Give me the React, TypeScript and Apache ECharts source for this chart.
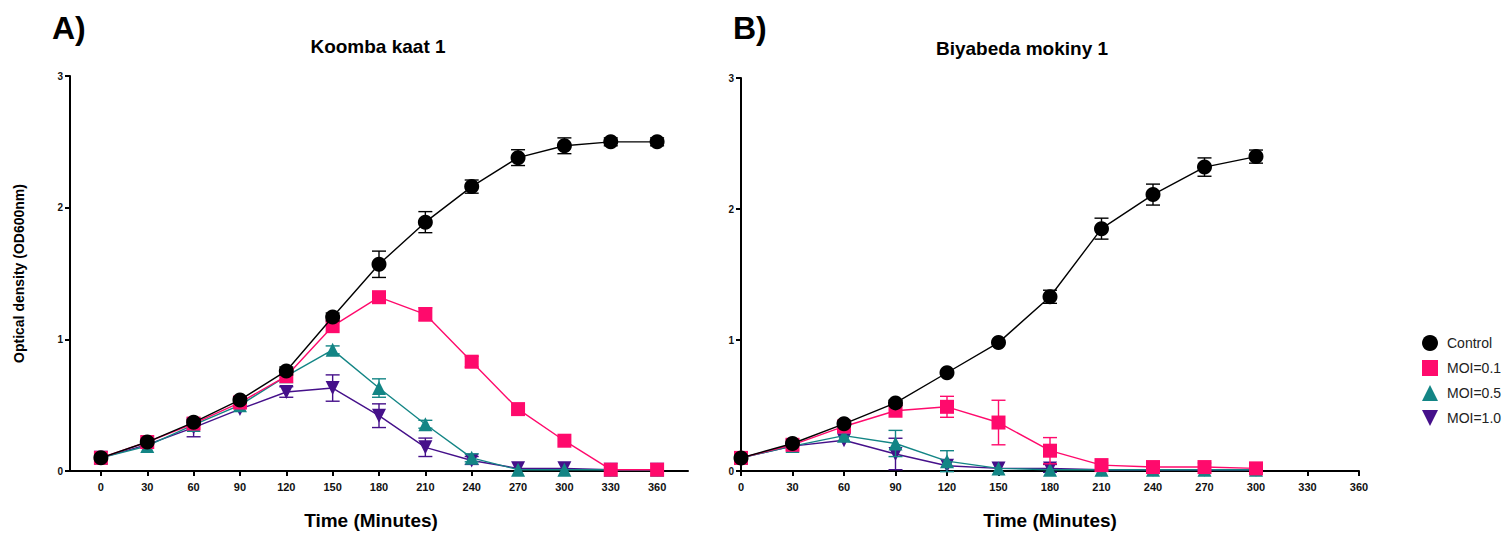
import React, { useEffect, useRef } from "react";
import * as echarts from "echarts";

const timesA = [0, 30, 60, 90, 120, 150, 180, 210, 240, 270, 300, 330, 360];
const timesB = [0, 30, 60, 90, 120, 150, 180, 210, 240, 270, 300];
const tickLabels = [0, 30, 60, 90, 120, 150, 180, 210, 240, 270, 300, 330, 360];

// Panel A – Koomba kaat 1 (mean, sd)
const aControl = [0.1, 0.22, 0.37, 0.54, 0.76, 1.17, 1.57, 1.89, 2.16, 2.38, 2.47, 2.5, 2.5];
const aControlSd = [0, 0, 0.02, 0.02, 0.03, 0.03, 0.1, 0.08, 0.05, 0.06, 0.06, 0.03, 0.03];
const aMoi01 = [0.1, 0.22, 0.36, 0.52, 0.72, 1.1, 1.32, 1.19, 0.83, 0.47, 0.23, 0.01, 0.01];
const aMoi01Sd = [0, 0, 0, 0, 0, 0, 0.02, 0.05, 0.04, 0, 0, 0, 0];
const aMoi05 = [0.1, 0.19, 0.35, 0.5, 0.72, 0.92, 0.63, 0.355, 0.1, 0.01, 0.01, 0.01, 0.01];
const aMoi05Sd = [0, 0, 0, 0, 0, 0.03, 0.07, 0.03, 0.03, 0, 0, 0, 0];
const aMoi10 = [0.1, 0.2, 0.33, 0.47, 0.6, 0.63, 0.42, 0.18, 0.08, 0.02, 0.02, 0.01, 0.01];
const aMoi10Sd = [0, 0, 0.07, 0, 0.04, 0.1, 0.09, 0.07, 0.03, 0, 0, 0, 0];

// Panel B – Biyabeda mokiny 1
const bControl = [0.1, 0.21, 0.36, 0.52, 0.75, 0.98, 1.33, 1.85, 2.11, 2.32, 2.4];
const bControlSd = [0, 0, 0, 0.02, 0, 0, 0.05, 0.08, 0.08, 0.07, 0.05];
const bMoi01 = [0.1, 0.2, 0.34, 0.46, 0.49, 0.37, 0.155, 0.045, 0.03, 0.03, 0.02];
const bMoi01Sd = [0, 0, 0, 0, 0.08, 0.17, 0.1, 0, 0, 0, 0];
const bMoi05 = [0.1, 0.19, 0.27, 0.21, 0.075, 0.02, 0.01, 0.01, 0.01, 0.01, 0.01];
const bMoi05Sd = [0, 0, 0, 0.1, 0.08, 0, 0, 0, 0, 0, 0];
const bMoi10 = [0.1, 0.19, 0.235, 0.13, 0.04, 0.02, 0.02, 0.01, 0.01, 0.01, 0.01];
const bMoi10Sd = [0, 0, 0, 0.12, 0, 0, 0.03, 0, 0, 0, 0];

const names = ["Control", "MOI=0.1", "MOI=0.5", "MOI=1.0"];
const colors = ["#000000", "#FF0A6C", "#138585", "#45108A"];
const symbols = ["circle", "rect", "triangle", "triangle"];
const rotations = [0, 0, 0, 180];

const FONT = 'Arial, "Liberation Sans", Helvetica, sans-serif';

function makeSeries(
  times: number[],
  means: number[][],
  sds: number[][],
  axisIndex: number
) {
  const out: any[] = [];
  // draw from bottom (MOI=1.0) to top (Control)
  for (let k = 3; k >= 0; k--) {
    const color = colors[k];
    const errData = times
      .map((t, i) => [t, means[k][i] - sds[k][i], means[k][i] + sds[k][i], sds[k][i]])
      .filter((d) => d[3] > 0);
    out.push({
      type: "custom",
      name: names[k] + " err",
      xAxisIndex: axisIndex,
      yAxisIndex: axisIndex,
      z: 2 + (3 - k) * 2,
      encode: { x: 0, y: [1, 2] },
      data: errData,
      renderItem: (params: any, api: any) => {
        const x = api.value(0);
        const top = api.coord([x, api.value(2)]);
        const bot = api.coord([x, api.value(1)]);
        const w = 7;
        const style = { stroke: color, lineWidth: 1.4 };
        return {
          type: "group",
          children: [
            { type: "line", shape: { x1: top[0], y1: top[1], x2: bot[0], y2: bot[1] }, style },
            { type: "line", shape: { x1: top[0] - w, y1: top[1], x2: top[0] + w, y2: top[1] }, style },
            { type: "line", shape: { x1: bot[0] - w, y1: bot[1], x2: bot[0] + w, y2: bot[1] }, style },
          ],
        };
      },
    });
    out.push({
      type: "line",
      name: names[k],
      xAxisIndex: axisIndex,
      yAxisIndex: axisIndex,
      z: 3 + (3 - k) * 2,
      data: times.map((t, i) => [t, means[k][i]]),
      symbol: symbols[k],
      symbolRotate: rotations[k],
      symbolSize: k === 0 ? 15 : 14,
      clip: false,
      lineStyle: { color, width: 1.4 },
      itemStyle: { color },
    });
  }
  return out;
}

const axisLine = { show: true, onZero: false, lineStyle: { color: "#000", width: 2 } };
const axisTickStyle = { show: true, length: 5, lineStyle: { color: "#000", width: 2 } };

export default function App() {
  const ref = useRef<HTMLDivElement>(null);
  useEffect(() => {
    const chart = echarts.init(ref.current!, undefined, { renderer: "svg" });
    const option: any = {
      animation: false,
      backgroundColor: "#ffffff",
      textStyle: { fontFamily: FONT },
      grid: [
        { left: 70, top: 76, width: 618, height: 406 },
        { left: 741, top: 78, width: 618, height: 405 },
      ],
      xAxis: [
        {
          type: "value",
          gridIndex: 0,
          min: -20,
          max: 380,
          name: "Time (Minutes)",
          nameLocation: "middle",
          nameGap: 40,
          nameTextStyle: { fontSize: 19, fontWeight: "bold", color: "#000", fontFamily: FONT, padding: [0, 16, 0, 0] },
          axisLine,
          axisTick: { ...axisTickStyle, customValues: tickLabels },
          axisLabel: { customValues: tickLabels, fontSize: 11, fontWeight: "bold", color: "#111", margin: 10, fontFamily: FONT },
          splitLine: { show: false },
        },
        {
          type: "value",
          gridIndex: 1,
          min: 0,
          max: 360,
          interval: 30,
          name: "Time (Minutes)",
          nameLocation: "middle",
          nameGap: 40,
          nameTextStyle: { fontSize: 19, fontWeight: "bold", color: "#000", fontFamily: FONT },
          axisLine,
          axisTick: axisTickStyle,
          axisLabel: { fontSize: 11, fontWeight: "bold", color: "#111", margin: 10, fontFamily: FONT },
          splitLine: { show: false },
        },
      ],
      yAxis: [0, 1].map((g) => ({
        type: "value",
        gridIndex: g,
        min: 0,
        max: 3,
        interval: 1,
        name: g === 0 ? "Optical density (OD600nm)" : "",
        nameLocation: "middle",
        nameGap: 44,
        nameTextStyle: { fontSize: 14, fontWeight: "bold", color: "#000", fontFamily: FONT },
        axisLine,
        axisTick: axisTickStyle,
        axisLabel: { fontSize: 10, fontWeight: "bold", color: "#111", margin: 7, fontFamily: FONT },
        splitLine: { show: false },
      })),
      legend: {
        orient: "vertical",
        left: 1417,
        top: 330,
        itemWidth: 16,
        itemHeight: 16,
        itemGap: 9,
        textStyle: { fontSize: 14, color: "#222", fontFamily: FONT, padding: [0, 0, 0, 4] },
        data: [
          { name: "Control", icon: "circle" },
          { name: "MOI=0.1", icon: "rect" },
          { name: "MOI=0.5", icon: "triangle" },
          { name: "MOI=1.0", icon: "path://M0,0L10,0L5,10Z" },
        ],
      },
      graphic: [
        { type: "text", left: 52, top: 12, style: { text: "A)", font: `bold 32px ${FONT}`, fill: "#000" } },
        { type: "text", left: 733, top: 12, style: { text: "B)", font: `bold 32px ${FONT}`, fill: "#000" } },
        { type: "text", x: 378, y: 46, style: { text: "Koomba kaat 1", font: `bold 19px ${FONT}`, fill: "#000", textAlign: "center", textVerticalAlign: "middle" } },
        { type: "text", x: 1022, y: 48, style: { text: "Biyabeda mokiny 1", font: `bold 19px ${FONT}`, fill: "#000", textAlign: "center", textVerticalAlign: "middle" } },
      ],
      series: [
        ...makeSeries(timesA, [aControl, aMoi01, aMoi05, aMoi10], [aControlSd, aMoi01Sd, aMoi05Sd, aMoi10Sd], 0),
        ...makeSeries(timesB, [bControl, bMoi01, bMoi05, bMoi10], [bControlSd, bMoi01Sd, bMoi05Sd, bMoi10Sd], 1),
      ],
    };
    chart.setOption(option);
    return () => chart.dispose();
  }, []);
  return (
    <div
      ref={ref}
      style={{ position: "fixed", left: 0, top: 0, width: 1509, height: 535, background: "#fff" }}
    />
  );
}
